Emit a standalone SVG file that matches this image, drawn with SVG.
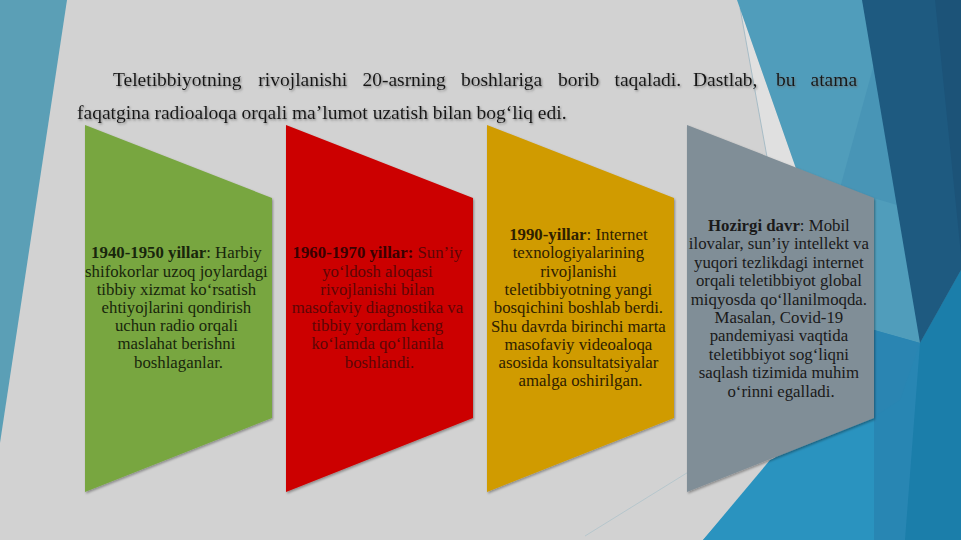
<svg xmlns="http://www.w3.org/2000/svg" width="961" height="540" viewBox="0 0 961 540">
  <style>
    .hdr { font-family: "Liberation Serif", "Times New Roman", serif; font-size: 19.5px; fill: #151515; }
    .box { font-family: "Liberation Serif", "Times New Roman", serif; font-size: 16.8px; text-anchor: middle; }
    .b { font-weight: bold; }
  </style>
  <defs>
    <filter id="shadow" x="-10%" y="-10%" width="120%" height="120%">
      <feDropShadow dx="1" dy="1.5" stdDeviation="1.2" flood-color="#000" flood-opacity="0.35"/>
    </filter>
    <filter id="tshadow" x="-5%" y="-30%" width="110%" height="160%">
      <feDropShadow dx="1" dy="1.3" stdDeviation="0.8" flood-color="#666" flood-opacity="0.75"/>
    </filter>
  </defs>

  <g id="background">
    <rect x="0" y="0" width="961" height="540" fill="#d2d2d2"/>
    <polygon points="0,0 67,0 0,443" fill="#5b9fb6"/>
    <polygon points="740,8 767,157 796,168 737,0" fill="#e0e0e0"/>
    <line x1="740" y1="8" x2="767" y2="157" stroke="#a7bcc6" stroke-width="1"/>
    <polygon points="737,0 961,0 961,540 703,540 790,440 800,180" fill="#509dbb"/>
    <polygon points="882,35 897,205 840,188" fill="#4895b6"/>
    <polygon points="874,330 920,343 961,270 961,540 874,540" fill="#2886b3"/>
    <polygon points="920,343 961,270 961,540 905,540" fill="#1b7eaa"/>
    <polygon points="703,540 770,460 874,417 874,540" fill="#2a93bf"/>
    <polygon points="874,417 900,400 920,343 874,330" fill="#2a85b2"/>
    <polygon points="862,0 961,0 961,270 920,343" fill="#1e5a80"/>
    <polygon points="935,0 961,0 961,255" fill="#1c5378"/>
    <line x1="585" y1="536" x2="690" y2="471" stroke="#b6c6cc" stroke-width="1"/>
  </g>

  <g id="intro" class="hdr" filter="url(#tshadow)">
    <text y="86"><tspan x="113">Teletibbiyotning</tspan><tspan x="258.3">rivojlanishi</tspan><tspan x="362.4">20-asrning</tspan><tspan x="461">boshlariga</tspan><tspan x="558">borib</tspan><tspan x="614.5">taqaladi.</tspan><tspan x="693">Dastlab,</tspan><tspan x="776">bu</tspan><tspan x="810.5">atama</tspan></text>
    <text x="77" y="118.5">faqatgina radioaloqa orqali ma’lumot uzatish bilan bog‘liq edi.</text>
  </g>

  <g id="node-1940">
    <polygon points="85,125 272,198 272,418 85,492" fill="#78a641" filter="url(#shadow)"/>
    <text class="box" fill="#18260c">
      <tspan x="178.5" y="258.3"><tspan class="b">1940-1950 yillar</tspan>: Harbiy</tspan>
      <tspan x="178.5" y="276.5">shifokorlar uzoq joylardagi</tspan>
      <tspan x="178.5" y="294.7">tibbiy xizmat ko‘rsatish</tspan>
      <tspan x="178.5" y="312.9">ehtiyojlarini qondirish</tspan>
      <tspan x="178.5" y="331.1">uchun radio orqali</tspan>
      <tspan x="178.5" y="349.3">maslahat berishni</tspan>
      <tspan x="178.5" y="367.5">boshlaganlar.</tspan>
    </text>
  </g>

  <g id="node-1960">
    <polygon points="286,125 473,198 473,418 286,492" fill="#cc0000" filter="url(#shadow)"/>
    <text class="box" fill="#5c0606">
      <tspan x="379.5" y="258.3"><tspan class="b" fill="#3a0000">1960-1970 yillar:</tspan> Sun’iy</tspan>
      <tspan x="379.5" y="276.5">yo‘ldosh aloqasi</tspan>
      <tspan x="379.5" y="294.7">rivojlanishi bilan</tspan>
      <tspan x="379.5" y="312.9">masofaviy diagnostika va</tspan>
      <tspan x="379.5" y="331.1">tibbiy yordam keng</tspan>
      <tspan x="379.5" y="349.3">ko‘lamda qo‘llanila</tspan>
      <tspan x="379.5" y="367.5">boshlandi.</tspan>
    </text>
  </g>

  <g id="node-1990">
    <polygon points="487,125 674,198 674,418 487,492" fill="#d09b03" filter="url(#shadow)"/>
    <text class="box" fill="#2e2000">
      <tspan x="580.5" y="240"><tspan class="b">1990-yillar</tspan>: Internet</tspan>
      <tspan x="580.5" y="258.3">texnologiyalarining</tspan>
      <tspan x="580.5" y="276.6">rivojlanishi</tspan>
      <tspan x="580.5" y="294.9">teletibbiyotning yangi</tspan>
      <tspan x="580.5" y="313.2">bosqichini boshlab berdi.</tspan>
      <tspan x="580.5" y="331.5">Shu davrda birinchi marta</tspan>
      <tspan x="580.5" y="349.8">masofaviy videoaloqa</tspan>
      <tspan x="580.5" y="368.1">asosida konsultatsiyalar</tspan>
      <tspan x="580.5" y="386.4">amalga oshirilgan.</tspan>
    </text>
  </g>

  <g id="node-hozirgi">
    <polygon points="687,125 874,198 874,418 687,492" fill="#808e97" filter="url(#shadow)"/>
    <text class="box" fill="#1a1a1a">
      <tspan x="781" y="231"><tspan class="b">Hozirgi davr</tspan>: Mobil</tspan>
      <tspan x="781" y="249.4">ilovalar, sun’iy intellekt va</tspan>
      <tspan x="781" y="267.8">yuqori tezlikdagi internet</tspan>
      <tspan x="781" y="286.2">orqali teletibbiyot global</tspan>
      <tspan x="781" y="304.6">miqyosda qo‘llanilmoqda.</tspan>
      <tspan x="781" y="323">Masalan, Covid-19</tspan>
      <tspan x="781" y="341.4">pandemiyasi vaqtida</tspan>
      <tspan x="781" y="359.8">teletibbiyot sog‘liqni</tspan>
      <tspan x="781" y="378.2">saqlash tizimida muhim</tspan>
      <tspan x="781" y="396.6">o‘rinni egalladi.</tspan>
    </text>
  </g>

  <g id="connectors"></g>
</svg>
